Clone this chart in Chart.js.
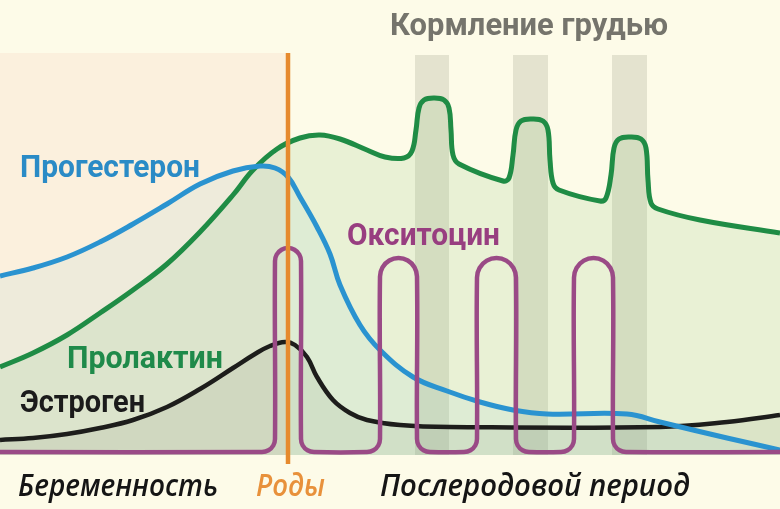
<!DOCTYPE html>
<html lang="ru">
<head>
<meta charset="utf-8">
<script src="https://cdn.jsdelivr.net/npm/chart.js@4/dist/chart.umd.min.js"></script>
<style>
  html, body { margin: 0; padding: 0; background: #fdfbe8; }
  .chart-wrap { width: 780px; height: 509px; position: relative; }
</style>
</head>
<body>
<div class="chart-wrap"><canvas id="hormoneChart"></canvas></div>
<script>
// timeline 0..78, level 0..40
const birthX = 28.8;
const feedStart = [41.5, 51.3, 61.2];
const feedEnd = [44.9, 54.8, 64.7];

const progX = [0, 3.3, 6.7, 10, 13.3, 16.7, 20, 23.3, 26, 27.5, 28.8, 30, 31.7, 33, 34, 36, 38, 41.3, 44.7, 48, 51.3, 54.7, 62.7, 66, 69.3, 72.7, 78];
const progY = [17.9, 18.7, 19.8, 21.3, 23.1, 25.1, 27.1, 28.4, 28.9, 28.7, 27.8, 25.8, 22.8, 20.1, 17, 13, 10.5, 7.8, 6.4, 5.3, 4.5, 4.1, 4.1, 3.3, 2.5, 1.7, 0.5];

const prolX = [0, 3.3, 6.7, 10, 13.3, 16.7, 20, 23.3, 25.3, 27.7, 30, 32, 34, 36.7, 38.5,
  40.4, 41.2, 41.6, 41.9, 42.4, 43.4, 44.4, 44.9, 45.1, 45.3, 45.9,
  50.3, 50.9, 51.3, 51.6, 52.1, 53.2, 54.3, 54.8, 55, 55.3, 55.9,
  60, 60.6, 61.1, 61.4, 61.9, 63, 64.1, 64.6, 64.8, 65.1, 65.8,
  70, 78];
const prolY = [8.8, 10.2, 12, 14.2, 16.5, 19.1, 22.3, 26, 28.5, 30.6, 31.7, 32, 31.6, 30.5, 29.8,
  29.7, 30.4, 32.5, 34.7, 35.5, 35.7, 35.5, 34.7, 32.5, 30, 29.1,
  27.4, 27.7, 30, 32.5, 33.4, 33.6, 33.4, 32.5, 29.5, 27.2, 26.5,
  25.4, 25.7, 28, 30.7, 31.6, 31.8, 31.6, 30.7, 27.5, 25.2, 24.6,
  23.5, 22.2];

const estrX = [0, 3.3, 6.7, 10, 13.3, 16.7, 20, 23.3, 25.5, 27, 28.5, 29.5, 30.7, 31.7, 33.3, 35, 36.7, 40, 45, 66, 72.7, 78];
const estrY = [1.5, 1.7, 2.1, 2.7, 3.5, 4.8, 6.6, 8.7, 10.1, 10.9, 11.3, 11, 9.8, 7.8, 5.5, 4.2, 3.5, 3, 2.8, 2.8, 3.3, 4];

const oxyX = [0,
  26.2, 26.85, 27.33, 27.5, 27.5, 27.67, 28.15, 28.8, 29.45, 29.93, 30.1, 30.1, 30.27, 30.75, 31.4,
  36.7, 37.35, 37.83, 38, 38, 38.25, 38.93, 39.85, 40.78, 41.45, 41.7, 41.7, 41.87, 42.35, 43,
  46.4, 47.05, 47.53, 47.7, 47.7, 47.96, 48.68, 49.65, 50.63, 51.34, 51.6, 51.6, 51.77, 52.25, 52.9,
  56.1, 56.75, 57.23, 57.4, 57.4, 57.66, 58.38, 59.35, 60.33, 61.04, 61.3, 61.3, 61.47, 61.95, 62.6,
  78];
const oxyY = [0.3,
  0.3, 0.47, 0.95, 1.6, 19.4, 20.05, 20.53, 20.7, 20.53, 20.05, 19.4, 1.6, 0.95, 0.47, 0.3,
  0.3, 0.47, 0.95, 1.6, 17.85, 18.77, 19.45, 19.7, 19.45, 18.77, 17.85, 1.6, 0.95, 0.47, 0.3,
  0.3, 0.47, 0.95, 1.6, 17.75, 18.72, 19.44, 19.7, 19.44, 18.72, 17.75, 1.6, 0.95, 0.47, 0.3,
  0.3, 0.47, 0.95, 1.6, 17.75, 18.72, 19.44, 19.7, 19.44, 18.72, 17.75, 1.6, 0.95, 0.47, 0.3,
  0.3];

const toPoints = (xs, ys) => xs.map((x, i) => ({ x, y: ys[i] }));

// label text, anchored in chart values; width is the drawn text width in px
const labels = [
  { text: 'Кормление грудью', x: 39, y: 42, width: 278, color: '#75746c' },
  { text: 'Прогестерон', x: 2, y: 27.8, width: 180, color: '#2a8bc6' },
  { text: 'Окситоцин', x: 34.7, y: 21, width: 153, color: '#983e80' },
  { text: 'Пролактин', x: 6.7, y: 8.7, width: 156, color: '#1f8a4a' },
  { text: 'Эстроген', x: 2, y: 4.3, width: 125, color: '#1b1b1b' },
  { text: 'Беременность', x: 1.8, y: -4.1, width: 200, color: '#151515', italic: true },
  { text: 'Роды', x: 25.6, y: -4.1, width: 69, color: '#e8913b', italic: true },
  { text: 'Послеродовой период', x: 38, y: -4.1, width: 310, color: '#151515', italic: true }
];

const backdrop = {
  id: 'backdrop',
  beforeDraw(chart) {
    const { ctx, chartArea: a, scales: { x } } = chart;
    ctx.save();
    ctx.fillStyle = '#fdfbe8';
    ctx.fillRect(0, 0, chart.width, chart.height);
    ctx.fillStyle = '#fbf0dd';
    ctx.fillRect(a.left, a.top - 2, x.getPixelForValue(birthX) - a.left, a.bottom - a.top + 2);
    ctx.fillStyle = 'rgba(150, 150, 128, 0.24)';
    feedStart.forEach((s, i) => {
      const l = x.getPixelForValue(s);
      ctx.fillRect(l, a.top, x.getPixelForValue(feedEnd[i]) - l, a.bottom - a.top);
    });
    ctx.restore();
  },
  afterDatasetsDraw(chart) {
    const { ctx, chartArea: a, scales: { x, y } } = chart;
    ctx.save();
    const bx = x.getPixelForValue(birthX);
    ctx.strokeStyle = '#e68a2e';
    ctx.lineWidth = 4.5;
    ctx.beginPath();
    ctx.moveTo(bx, a.top - 2);
    ctx.lineTo(bx, a.bottom + 9);
    ctx.stroke();

    ctx.textBaseline = 'alphabetic';
    labels.forEach((l) => {
      ctx.font = l.italic ? 'italic 600 30px "Open Sans", sans-serif' : '700 31px Roboto, sans-serif';
      const w = ctx.measureText(l.text).width;
      ctx.save();
      ctx.translate(x.getPixelForValue(l.x), y.getPixelForValue(l.y));
      ctx.scale(l.width / w, 1);
      ctx.fillStyle = l.color;
      ctx.fillText(l.text, 0, 0);
      ctx.restore();
    });
    ctx.restore();
  }
};

new Chart(document.getElementById('hormoneChart'), {
  type: 'scatter',
  data: {
    datasets: [
      {
        label: 'Окситоцин',
        data: toPoints(oxyX, oxyY),
        showLine: true,
        borderColor: '#9a4a86',
        borderWidth: 4.5,
        tension: 0.4,
        pointRadius: 0,
        fill: false
      },
      {
        label: 'Прогестерон',
        data: toPoints(progX, progY),
        showLine: true,
        borderColor: '#2a93d0',
        borderWidth: 5,
        tension: 0.4,
        pointRadius: 0,
        fill: 'origin',
        backgroundColor: 'rgba(130, 195, 205, 0.1)'
      },
      {
        label: 'Пролактин',
        data: toPoints(prolX, prolY),
        showLine: true,
        borderColor: '#1f8c45',
        borderWidth: 5,
        tension: 0.4,
        pointRadius: 0,
        fill: 'origin',
        backgroundColor: 'rgba(120, 190, 110, 0.15)'
      },
      {
        label: 'Эстроген',
        data: toPoints(estrX, estrY),
        showLine: true,
        borderColor: '#1d1d1b',
        borderWidth: 4.5,
        tension: 0.4,
        pointRadius: 0,
        fill: 'origin',
        backgroundColor: 'rgba(95, 100, 80, 0.1)'
      }
    ]
  },
  options: {
    responsive: true,
    maintainAspectRatio: false,
    animation: false,
    layout: { padding: { top: 55, bottom: 54, left: 0, right: 0 } },
    plugins: {
      legend: { display: false },
      tooltip: { enabled: false },
      filler: { drawTime: 'beforeDatasetsDraw' }
    },
    scales: {
      x: { type: 'linear', min: 0, max: 78, display: false },
      y: { min: 0, max: 40, display: false }
    }
  },
  plugins: [backdrop]
});
</script>
</body>
</html>
